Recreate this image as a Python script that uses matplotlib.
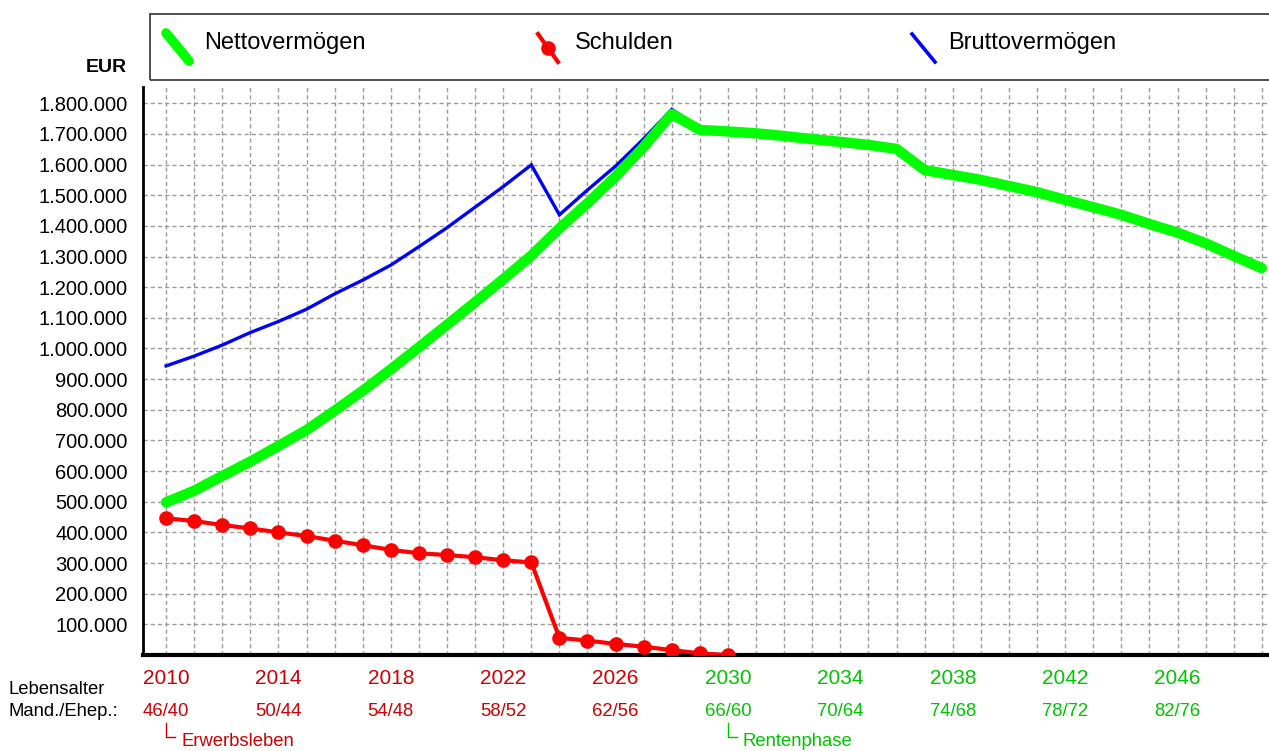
import matplotlib
matplotlib.use("Agg")
import matplotlib.pyplot as plt
from matplotlib.ticker import FuncFormatter
from matplotlib.transforms import blended_transform_factory
from matplotlib.lines import Line2D
from matplotlib.patches import Rectangle

plt.rcParams['font.family'] = ['Liberation Sans', 'DejaVu Sans']

# ---------------- data ----------------
years = list(range(2010, 2050))
netto = [498000, 536000, 584000, 631000, 682000, 734000, 797000, 862000, 932000, 1004000,
         1077000, 1151000, 1226000, 1303000, 1392000, 1474000, 1561000, 1658000, 1765000, 1713000,
         1708000, 1702000, 1693000, 1683000, 1674000, 1664000, 1651000, 1582000, 1566000, 1550000,
         1530000, 1510000, 1485000, 1461000, 1436000, 1406000, 1378000, 1343000, 1302000, 1262000]
brutto = [943000, 975000, 1011000, 1052000, 1088000, 1128000, 1178000, 1223000, 1272000, 1332000,
          1394000, 1461000, 1528000, 1599000, 1436000, 1517000, 1595000, 1684000, 1780000, 1719000,
          1708000, 1702000, 1693000, 1683000, 1674000, 1664000, 1651000, 1582000, 1566000, 1550000,
          1530000, 1510000, 1485000, 1461000, 1436000, 1406000, 1378000, 1343000, 1302000, 1262000]
schulden_years = list(range(2010, 2031))
schulden = [446000, 437000, 424000, 413000, 400000, 388000, 373000, 358000, 343000, 332000,
            326000, 319000, 309000, 302000, 56000, 47000, 36000, 27000, 16000, 5500, 0]

tick_years = [2010, 2014, 2018, 2022, 2026, 2030, 2034, 2038, 2042, 2046]
age_labels = ["46/40", "50/44", "54/48", "58/52", "62/56", "66/60", "70/64", "74/68", "78/72", "82/76"]
y_ticks = [100000 * i for i in range(1, 19)]
retirement_year = 2030
phases = [(2010, "Erwerbsleben"), (2030, "Rentenphase")]
legend_labels = ["Nettovermögen", "Schulden", "Bruttovermögen"]

# ---------------- style ----------------
W, H = 1269, 751
RED_TXT = '#cc0000'
GREEN_TXT = '#00c400'

fig = plt.figure(figsize=(W / 100, H / 100), dpi=100)
ax = fig.add_axes([143 / W, 1 - 655 / H, (1268 - 143) / W, (655 - 87) / H])

ax.plot(years, brutto, color='#0000ff', lw=2.4, zorder=2, solid_joinstyle='miter')
ax.plot(years, netto, color='#00ff00', lw=7.5, zorder=3, solid_capstyle='round')
ax.plot(schulden_years, schulden, color='#ff0000', lw=3, marker='o', ms=9.5, zorder=4)

ax.set_xlim(2009.18, 2049.22)
ax.set_ylim(0, 1853000)
ax.set_xticks(years)
ax.set_xticklabels([])
ax.set_yticks(y_ticks)
ax.yaxis.set_major_formatter(FuncFormatter(lambda v, p: f"{int(v):,}".replace(",", ".")))
ax.tick_params(axis='both', length=0)
ax.tick_params(axis='y', labelsize=14.5, pad=11)
ax.grid(True, color='#9a9a9a', linestyle=(0, (3, 2.2)), linewidth=1)
ax.set_axisbelow(True)
for s in ['top', 'right']:
    ax.spines[s].set_visible(False)
ax.spines['left'].set_linewidth(2)
ax.spines['bottom'].set_linewidth(3)

# x labels
tr = blended_transform_factory(ax.transData, fig.transFigure)
for yr, lab in zip(tick_years, age_labels):
    c = RED_TXT if yr < retirement_year else GREEN_TXT
    ax.text(yr, 1 - 678 / H, str(yr), transform=tr, ha='center', va='center', fontsize=15, color=c)
    ax.text(yr, 1 - 712 / H, lab, transform=tr, ha='center', va='center', fontsize=13.3, color=c)

px_per_year = (1268 - 143) / (2049.22 - 2009.18)
for yr, name in phases:
    c = RED_TXT if yr < retirement_year else GREEN_TXT
    ax.add_line(Line2D([yr, yr, yr + 9 / px_per_year], [1 - 723 / H, 1 - 737 / H, 1 - 737 / H],
                       transform=tr, color=c, lw=1, clip_on=False))
    ax.text(yr + 15 / px_per_year, 1 - 742 / H, name, transform=tr, ha='left', va='center',
            fontsize=13.3, color=c)

fig.text(8 / W, 1 - 690 / H, "Lebensalter", ha='left', va='center', fontsize=13.3)
fig.text(8 / W, 1 - 712 / H, "Mand./Ehep.:", ha='left', va='center', fontsize=13.3)
fig.text(127 / W, 1 - 68 / H, "EUR", ha='right', va='center', fontsize=14, fontweight='bold')

# legend (manual)
fig.add_artist(Rectangle((150 / W, 1 - 80 / H), 1140 / W, 66 / H, transform=fig.transFigure,
                         fill=False, edgecolor='#404040', lw=1.3, clip_on=False))
fig.add_artist(Line2D([166 / W, 189 / W], [1 - 33 / H, 1 - 61 / H], transform=fig.transFigure,
                      color='#00ff00', lw=7, solid_capstyle='round'))
fig.add_artist(Line2D([538 / W, 558 / W], [1 - 34 / H, 1 - 62 / H], transform=fig.transFigure,
                      color='#ff0000', lw=3))
fig.add_artist(Line2D([548 / W], [1 - 48 / H], transform=fig.transFigure,
                      color='#ff0000', marker='o', ms=9.5, lw=0))
fig.add_artist(Line2D([912 / W, 935 / W], [1 - 34 / H, 1 - 62 / H], transform=fig.transFigure,
                      color='#0000ff', lw=2.6))
for x, lab in zip([204, 575, 948], legend_labels):
    fig.text(x / W, 1 - 43 / H, lab, ha='left', va='center', fontsize=17)

fig.savefig("out.png", dpi=100)
